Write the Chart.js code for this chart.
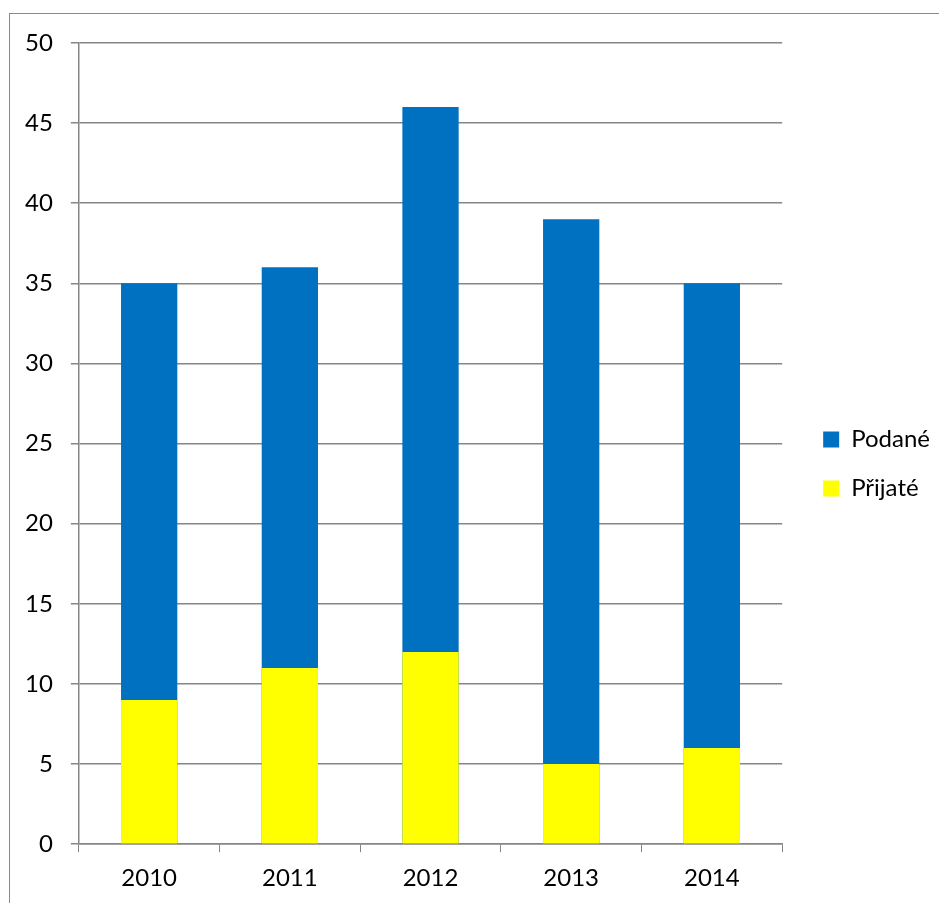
<!DOCTYPE html>
<html>
<head>
<meta charset="utf-8">
<script src="https://cdn.jsdelivr.net/npm/chart.js@4.4.1/dist/chart.umd.min.js"></script>
<style>
  html, body { margin: 0; padding: 0; background: #fff; overflow: hidden; }
  #wrap { position: relative; width: 939px; height: 903px; }
  #frame { position: absolute; left: 9px; top: 13px; width: 1200px; height: 1200px; border: 1.5px solid #8a8a8a; box-sizing: border-box; pointer-events: none; }
  canvas { position: absolute; left: 0; top: 0; }
</style>
</head>
<body>
<div id="wrap">
  <canvas id="chart" width="939" height="903"></canvas>
  <div id="frame"></div>
</div>
<script>
const years = ["2010", "2011", "2012", "2013", "2014"];
const podane = [35, 36, 46, 39, 35];
const prijate = [9, 11, 12, 5, 6];

const fontFamily = "Lato, 'Open Sans', sans-serif";
const gridColor = "#868686";

// push the legend a bit further from the plot, like the original
const legendShift = {
  id: "legendShift",
  afterLayout(chart) {
    if (chart.legend) {
      chart.legend.left += 16;
      chart.legend.right += 16;
      chart.legend.top -= 10;
      chart.legend.bottom -= 10;
    }
  }
};

const ctx = document.getElementById("chart").getContext("2d");
new Chart(ctx, {
  type: "bar",
  data: {
    labels: years,
    datasets: [
      {
        label: "Přijaté",
        data: prijate,
        backgroundColor: "#FFFF00",
        grouped: false,
        barPercentage: 0.4,
        categoryPercentage: 1
      },
      {
        label: "Podané",
        data: podane,
        backgroundColor: "#0070C0",
        grouped: false,
        barPercentage: 0.4,
        categoryPercentage: 1
      }
    ]
  },
  options: {
    responsive: false,
    animation: false,
    layout: { padding: { left: 7, top: 43, right: 15, bottom: -2 } },
    scales: {
      x: {
        grid: {
          drawOnChartArea: false,
          drawTicks: true,
          tickLength: 8,
          color: gridColor,
          offset: true
        },
        border: { color: gridColor, width: 1.5 },
        ticks: {
          color: "#000",
          padding: 12,
          font: { family: fontFamily, size: 24 }
        }
      },
      y: {
        min: 0,
        max: 50,
        grid: {
          color: gridColor,
          lineWidth: 1.5,
          tickLength: 8
        },
        border: { color: gridColor, width: 1.5 },
        ticks: {
          stepSize: 5,
          color: "#000",
          padding: 18,
          font: { family: fontFamily, size: 24 }
        }
      }
    },
    plugins: {
      legend: {
        position: "right",
        reverse: true,
        labels: {
          boxWidth: 16,
          boxHeight: 16,
          padding: 25,
          color: "#000",
          font: { family: fontFamily, size: 24 }
        }
      },
      tooltip: { enabled: false }
    }
  },
  plugins: [legendShift]
});
</script>
</body>
</html>
